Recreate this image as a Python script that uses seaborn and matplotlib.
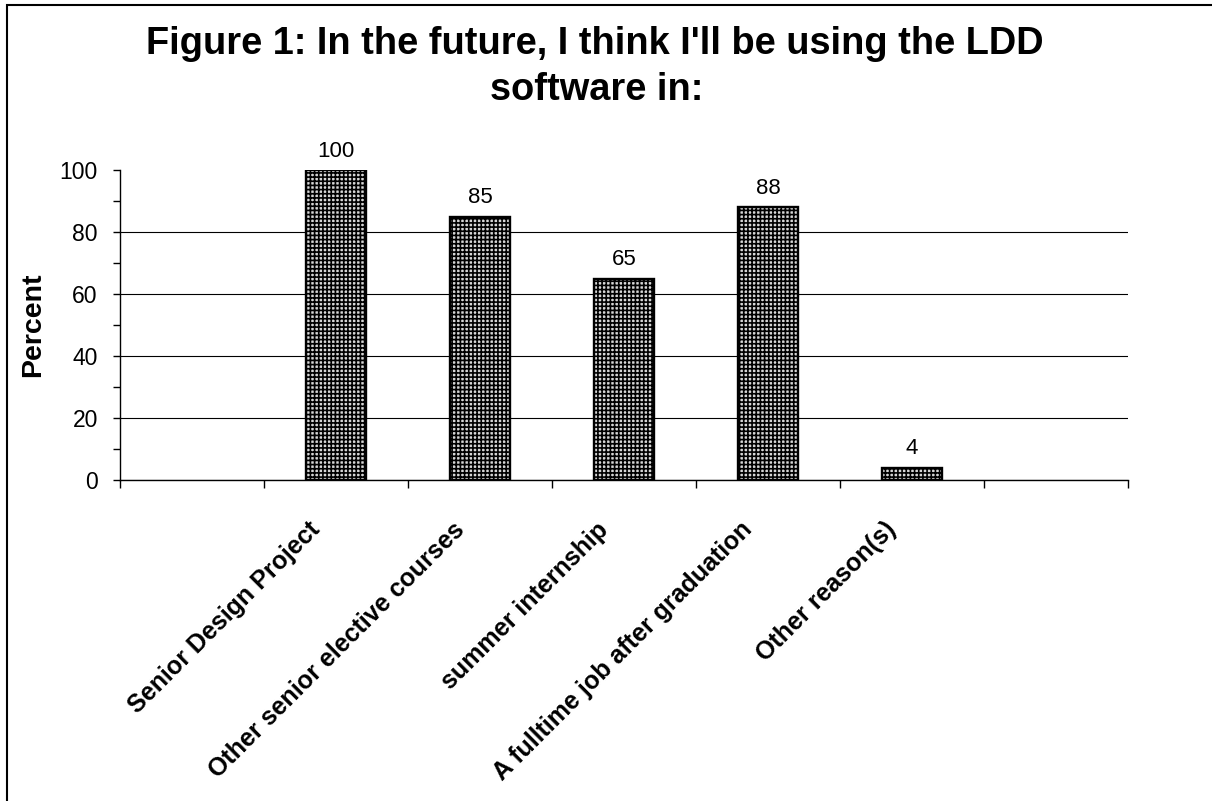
import matplotlib
matplotlib.use("Agg")
import matplotlib.pyplot as plt
from matplotlib.patches import Rectangle
from matplotlib.transforms import ScaledTranslation
from matplotlib.ticker import MultipleLocator, FixedLocator, NullFormatter, FixedFormatter
import seaborn as sns
import pandas as pd
import numpy as np

# ---- data ----
categories = ["Senior Design Project", "Other senior elective courses",
              "summer internship", "A fulltime job after graduation", "Other reason(s)"]
percent = [100, 85, 65, 88, 4]
value_labels = ["100", "85", "65", "88", "4"]
slot_order = [" "] + categories + ["  "]   # Excel-style empty slots at both ends
y_ticks = [0, 20, 40, 60, 80, 100]

sns.set_theme(style="white")
plt.rcParams["font.family"] = ["Liberation Sans", "DejaVu Sans"]
plt.rcParams["hatch.linewidth"] = 1.2
for k in ["text.color", "axes.labelcolor", "xtick.color", "ytick.color"]:
    plt.rcParams[k] = "black"

df = pd.DataFrame({"category": categories, "percent": percent})

fig = plt.figure(figsize=(12.12, 8.01), dpi=100)
ax = fig.add_axes([120/1212, 1-480/801, (1128-120)/1212, (480-170)/801])

sns.barplot(data=df, x="category", y="percent", order=slot_order, ax=ax,
            width=0.42, color="#d6d6d6", edgecolor="black", linewidth=1.7,
            hatch="++++", errorbar=None, saturation=1)

for c in ax.containers:
    ax.bar_label(c, labels=value_labels, padding=6, fontsize=16, color="black")

ax.set_xlim(-0.5, len(slot_order) - 0.5)
ax.set_ylim(0, 100)

# y axis
ax.yaxis.set_major_locator(FixedLocator(y_ticks))
ax.yaxis.set_minor_locator(MultipleLocator(10))
ax.tick_params(axis="y", which="major", direction="out", length=5, width=1,
               color="black", labelsize=16.5, pad=11, left=True)
ax.tick_params(axis="y", which="minor", direction="out", length=5, width=1,
               color="black", left=True)
ax.yaxis.grid(True, which="major", color="black", linewidth=0.8)
ax.set_axisbelow(True)
gl = ax.yaxis.get_gridlines()
gl[-1].set_visible(False)

# x axis: tick marks at slot boundaries, labels at slot centres
n = len(slot_order)
ax.xaxis.set_major_locator(FixedLocator(np.arange(-0.5, n, 1.0)))
ax.xaxis.set_major_formatter(NullFormatter())
ax.xaxis.set_minor_locator(FixedLocator(np.arange(n)))
ax.xaxis.set_minor_formatter(FixedFormatter([""] + categories + [""]))
ax.tick_params(axis="x", which="major", direction="out", length=6, width=1,
               color="black", bottom=True)
ax.tick_params(axis="x", which="minor", length=0, pad=27, labelsize=18)
shift = ScaledTranslation(-20/72, 0, fig.dpi_scale_trans)
for lbl in ax.get_xticklabels(minor=True):
    lbl.set_rotation(45)
    lbl.set_ha("right")
    lbl.set_rotation_mode("anchor")
    lbl.set_fontweight("bold")
    lbl.set_transform(lbl.get_transform() + shift)

ax.set_xlabel("")
ax.set_ylabel("Percent", fontsize=20.5, fontweight="bold", labelpad=10)

for s in ["top", "right"]:
    ax.spines[s].set_visible(False)
for s in ["left", "bottom"]:
    ax.spines[s].set_color("black")
    ax.spines[s].set_linewidth(1)

fig.text(595/1212, 1-54/801, "Figure 1: In the future, I think I'll be using the LDD",
         ha="center", va="baseline", fontsize=27.4, fontweight="bold")
fig.text(597/1212, 1-100/801, "software in:",
         ha="center", va="baseline", fontsize=27.4, fontweight="bold")

# outer chart frame (cut off at right and bottom as in the reference)
fig.patches.append(Rectangle((7/1212, -0.2), 1.2, 1.2 - 5/801, transform=fig.transFigure,
                             fill=False, edgecolor="black", linewidth=1.5))

fig.savefig("out.png", dpi=100, facecolor="white")
